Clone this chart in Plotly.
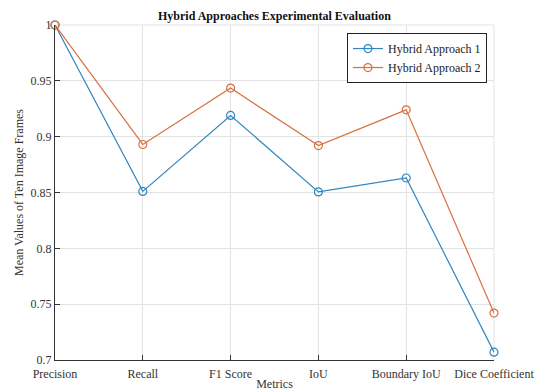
import plotly.graph_objects as go

# Metrics evaluated on ten image frames
metrics = ["Precision", "Recall", "F1 Score", "IoU", "Boundary IoU", "Dice Coefficient"]
approach1 = [1.000, 0.851, 0.919, 0.8505, 0.863, 0.707]
approach2 = [1.000, 0.893, 0.9435, 0.892, 0.924, 0.742]

y_ticks = [0.7, 0.75, 0.8, 0.85, 0.9, 0.95, 1.0]
y_tick_text = ["0.7", "0.75", "0.8", "0.85", "0.9", "0.95", "1"]

FONT = "Liberation Serif, Times New Roman, serif"
BLUE = "#2f86bf"
ORANGE = "#d8703f"

fig = go.Figure()
for name, vals, col in [("Hybrid Approach 1", approach1, BLUE),
                        ("Hybrid Approach 2", approach2, ORANGE)]:
    fig.add_trace(go.Scatter(
        x=list(range(len(metrics))), y=vals, name=name,
        mode="lines+markers",
        line=dict(color=col, width=1.2),
        marker=dict(symbol="circle-open", size=8, color=col, line=dict(width=1.2)),
        cliponaxis=False,
    ))

fig.update_layout(
    width=537, height=391,
    margin=dict(l=55, r=43, t=25, b=31),
    paper_bgcolor="white", plot_bgcolor="white",
    font=dict(family=FONT, size=12, color="#333333"),
    title=dict(text="<b>Hybrid Approaches Experimental Evaluation</b>",
               x=0.511, xanchor="center", y=0.96, yanchor="middle",
               font=dict(family=FONT, size=12, color="#111111")),
    legend=dict(x=0.984, y=0.976, xanchor="right", yanchor="top",
                bgcolor="white", bordercolor="#222222", borderwidth=1,
                font=dict(family=FONT, size=12, color="#222222"),
                tracegroupgap=0, itemwidth=30),
    showlegend=True,
)

fig.update_xaxes(
    range=[0, len(metrics) - 1], automargin=False,
    tickvals=list(range(len(metrics))), ticktext=metrics,
    showgrid=True, gridcolor="#e3e3e3", gridwidth=1,
    showline=True, linecolor="#333333", linewidth=1.2,
    ticks="inside", ticklen=5, tickcolor="#333333", ticklabelstandoff=2,
    tickfont=dict(family=FONT, size=12, color="#333333"),
    title=dict(text="Metrics", standoff=3, font=dict(family=FONT, size=12, color="#333333")),
    zeroline=False,
)
fig.update_yaxes(
    range=[0.7, 1.0], automargin=False,
    tickvals=y_ticks, ticktext=y_tick_text,
    showgrid=True, gridcolor="#e3e3e3", gridwidth=1,
    showline=True, linecolor="#333333", linewidth=1.2,
    ticks="inside", ticklen=5, tickcolor="#333333",
    tickfont=dict(family=FONT, size=12, color="#333333"),
    title=dict(text="Mean Values of Ten Image Frames", standoff=4,
               font=dict(family=FONT, size=12, color="#333333")),
    zeroline=False,
)

# light frame on top and right edges
fig.add_shape(type="line", xref="paper", yref="paper", x0=0, x1=1, y0=1, y1=1,
              line=dict(color="#e3e3e3", width=1), layer="below")
fig.add_shape(type="line", xref="paper", yref="paper", x0=1, x1=1, y0=0, y1=1,
              line=dict(color="#e3e3e3", width=1), layer="below")

fig.write_html("out.html")
